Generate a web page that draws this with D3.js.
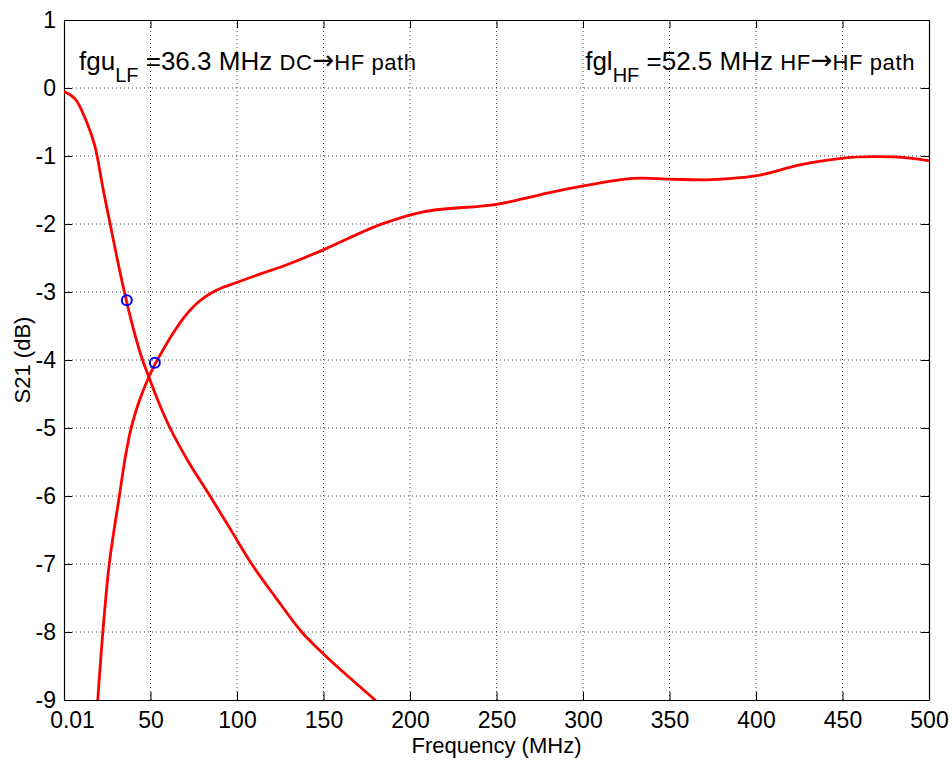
<!DOCTYPE html>
<html>
<head>
<meta charset="utf-8">
<script src="https://cdn.jsdelivr.net/npm/d3@7"></script>
<style>
  body { margin: 0; background: #fff; }
  svg text { font-family: "Liberation Sans", Arial, sans-serif; fill: #000; }
</style>
</head>
<body>
<script>
// Frequency (MHz) and S21 (dB)
var lfFreq = [0.01, 6.4, 13.1, 17.9, 22.7, 26.6, 30.5, 34.9, 40, 45, 48.6, 55, 61.3, 72, 84.4, 96, 108.5, 122, 137.4, 150.3, 165, 179.8, 185];
var lfDb   = [-0.05, -0.16, -0.5, -0.86, -1.5, -1.99, -2.48, -3.0, -3.53, -3.97, -4.22, -4.64, -5.0, -5.5, -6.0, -6.48, -7.0, -7.48, -8.0, -8.33, -8.67, -9.0, -9.12];

var hfFreq = [18.6, 19.5, 22.4, 26.2, 32.0, 35.5, 39, 43, 47, 51, 55.5, 63.2, 68, 72.8, 78, 85.4, 92, 99.8, 114, 128.7, 149.9, 182.7, 207.7, 250.1, 275.1, 300.2, 329.1, 350.3, 371.5, 400.4, 425.4, 450.5, 467.8, 489, 500];
var hfDb   = [-9.35, -9.0, -8.02, -6.99, -6.0, -5.42, -4.98, -4.64, -4.37, -4.14, -3.93, -3.6, -3.42, -3.27, -3.14, -3.01, -2.93, -2.86, -2.73, -2.6, -2.38, -2.01, -1.82, -1.71, -1.57, -1.44, -1.33, -1.34, -1.35, -1.29, -1.13, -1.03, -1.01, -1.03, -1.07];

var markFreq = [36.3, 52.5];
var markDb   = [-3.12, -4.04];

var xTicks = [0.01, 50, 100, 150, 200, 250, 300, 350, 400, 450, 500];
var xTickLabels = ["0.01", "50", "100", "150", "200", "250", "300", "350", "400", "450", "500"];
var yTicks = [1, 0, -1, -2, -3, -4, -5, -6, -7, -8, -9];

// Settings
var w = 952, h = 760;
var m = {left: 64, right: 23, top: 20, bottom: 60};

var svg = d3.select("body").append("svg")
  .attr("width", w)
  .attr("height", h);

var xScale = d3.scaleLinear().domain([0, 500]).range([m.left, w - m.right]);
var yScale = d3.scaleLinear().domain([-9, 1]).range([h - m.bottom, m.top]);

var x0 = xScale.range()[0], x1 = xScale.range()[1];
var y0 = yScale.range()[0], y1 = yScale.range()[1];

// grid
svg.append("g").selectAll("line")
  .data(xTicks.slice(1, -1))
  .enter().append("line")
  .attr("x1", function(d) { return xScale(d); })
  .attr("x2", function(d) { return xScale(d); })
  .attr("y1", y0).attr("y2", y1)
  .attr("stroke", "#444").attr("stroke-width", 1)
  .attr("stroke-dasharray", "1,3");

svg.append("g").selectAll("line")
  .data(yTicks.slice(1, -1))
  .enter().append("line")
  .attr("y1", function(d) { return yScale(d); })
  .attr("y2", function(d) { return yScale(d); })
  .attr("x1", x0).attr("x2", x1)
  .attr("stroke", "#444").attr("stroke-width", 1)
  .attr("stroke-dasharray", "1,3");

// axes (inward ticks, box)
var xAxis = d3.axisBottom(xScale).tickValues(xTicks).tickSizeInner(-8).tickSizeOuter(0)
  .tickPadding(12)
  .tickFormat(function(d, i) { return xTickLabels[i]; });
var gx = svg.append("g").attr("transform", "translate(0," + y0 + ")").call(xAxis);
gx.selectAll("text").style("font-size", "23px").attr("dy", "0.71em");
gx.select(".tick text").attr("dx", 8);   // first label sits right of the corner

var xTop = d3.axisTop(xScale).tickValues(xTicks).tickSizeInner(-8).tickSizeOuter(0).tickFormat("");
svg.append("g").attr("transform", "translate(0," + y1 + ")").call(xTop);

var yAxis = d3.axisLeft(yScale).tickValues(yTicks).tickSizeInner(-8).tickSizeOuter(0)
  .tickPadding(8).tickFormat(function(d) { return String(d); });
var gy = svg.append("g").attr("transform", "translate(" + x0 + ",0)").call(yAxis);
gy.selectAll("text").style("font-size", "23px");

var yRight = d3.axisRight(yScale).tickValues(yTicks).tickSizeInner(-8).tickSizeOuter(0).tickFormat("");
svg.append("g").attr("transform", "translate(" + x1 + ",0)").call(yRight);

svg.selectAll(".domain").attr("stroke", "#000").attr("stroke-width", 1.2);
svg.selectAll(".tick line").attr("stroke", "#000");

// curves
svg.append("clipPath").attr("id", "clip").append("rect")
  .attr("x", x0).attr("y", y1).attr("width", x1 - x0).attr("height", y0 - y1);

var line = d3.line()
  .x(function(d) { return xScale(d[0]); })
  .y(function(d) { return yScale(d[1]); })
  .curve(d3.curveCatmullRom.alpha(0.5));

var lf = d3.zip(lfFreq, lfDb);
var hf = d3.zip(hfFreq, hfDb);

svg.append("g").attr("clip-path", "url(#clip)").selectAll("path")
  .data([lf, hf])
  .enter().append("path")
  .attr("d", line)
  .attr("fill", "none")
  .attr("stroke", "#ff0000")
  .attr("stroke-width", 2.8);

svg.selectAll("circle.mk")
  .data(d3.zip(markFreq, markDb))
  .enter().append("circle")
  .attr("cx", function(d) { return xScale(d[0]); })
  .attr("cy", function(d) { return yScale(d[1]); })
  .attr("r", 5)
  .attr("fill", "none")
  .attr("stroke", "#0000ff")
  .attr("stroke-width", 2);

// annotations
function note(x, anchor, name, sub, val, from, to) {
  var t = svg.append("text").attr("x", x).attr("y", 70)
    .attr("text-anchor", anchor).style("font-size", "26px");
  t.append("tspan").text(name);
  t.append("tspan").attr("dy", 12).style("font-size", "20px").text(sub);
  t.append("tspan").attr("dy", -12).text(" " + val + " ");
  t.append("tspan").style("font-size", "22px").style("letter-spacing", "0.6px").text(from);
  t.append("tspan").style("font-size", "26px").style("font-family", "DejaVu Sans").attr("dy", -1).text("\u2192");
  t.append("tspan").style("font-size", "22px").style("letter-spacing", "0.6px").attr("dy", 1).text(to);
}
note(79, "start", "fgu", "LF", "=36.3 MHz", "DC", "HF path");
note(915, "end", "fgl", "HF", "=52.5 MHz", "HF", "HF path");

// axis labels
svg.append("text")
  .attr("x", (x0 + x1) / 2).attr("y", 753)
  .attr("text-anchor", "middle")
  .style("font-size", "22px")
  .text("Frequency (MHz)");

svg.append("text")
  .attr("transform", "translate(30," + ((y0 + y1) / 2) + ") rotate(-90)")
  .attr("text-anchor", "middle")
  .style("font-size", "22px")
  .text("S21 (dB)");
</script>
</body>
</html>
